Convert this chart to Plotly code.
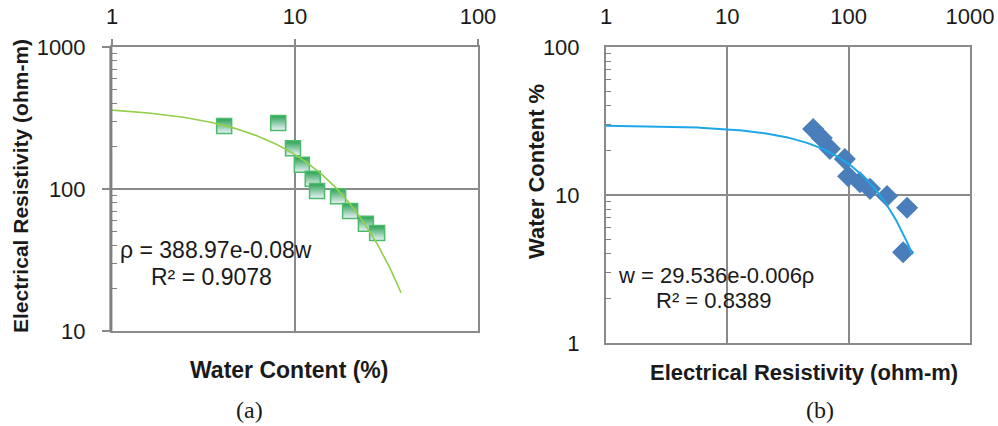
import numpy as np
import plotly.graph_objects as go

# ---- data ----
# (a) water content (%) vs electrical resistivity (ohm-m)
a_water = [4.1, 8.1, 9.75, 10.9, 12.5, 13.2, 17.2, 20.0, 24.4, 28.1]
a_resist = [278, 292, 194, 148, 118, 97, 89, 70, 57, 49]
# exponential trendline printed on chart: rho = 388.97 e^(-0.08 w)
a_coef, a_rate = 388.97, -0.08
a_trend_range = [1, 38]

# (b) electrical resistivity (ohm-m) vs water content (%)
b_resist = [51, 60, 70, 93, 99, 124, 150, 207, 303, 281]
b_water = [27.9, 24.3, 20.5, 17.5, 13.4, 12.2, 11.0, 9.85, 8.2, 4.1]
# exponential trendline printed on chart: w = 29.536 e^(-0.006 rho)
b_coef, b_rate = 29.536, -0.006
b_trend_range = [1, 335]

log_ticks_a_x = [1, 10, 100]
log_ticks_a_y = [10, 100, 1000]
log_ticks_b_x = [1, 10, 100, 1000]
log_ticks_b_y = [1, 10, 100]

W, H = 998, 426
FONT = "Liberation Sans, Arial, sans-serif"
SERIF = "Liberation Serif, Times New Roman, serif"
TXT = "#1a1a1a"
FRAME = "#8a8a8a"

a_tw = np.geomspace(a_trend_range[0], a_trend_range[1], 200)
a_tr = a_coef * np.exp(a_rate * a_tw)
b_tr_x = np.geomspace(b_trend_range[0], b_trend_range[1], 200)
b_tr_y = b_coef * np.exp(b_rate * b_tr_x)


def minor_vals(decades):
    return [d * m for d in decades[:-1] for m in range(2, 10)]


fig = go.Figure()
fig.add_trace(go.Scatter(
    x=a_water, y=a_resist, mode="markers", xaxis="x", yaxis="y",
    marker=dict(symbol="square", size=15, color="#24a24f",
                gradient=dict(type="vertical", color="#eef2fb"),
                line=dict(color="#4cbb6c", width=1.5)),
    showlegend=False))
fig.add_trace(go.Scatter(
    x=a_tw, y=a_tr, mode="lines", xaxis="x", yaxis="y",
    line=dict(color="#92cf4a", width=1.6), showlegend=False))
fig.add_trace(go.Scatter(
    x=b_resist, y=b_water, mode="markers", xaxis="x2", yaxis="y2",
    marker=dict(symbol="diamond", size=17, color="#4a7ebb",
                line=dict(width=0)),
    showlegend=False))
fig.add_trace(go.Scatter(
    x=b_tr_x, y=b_tr_y, mode="lines", xaxis="x2", yaxis="y2",
    line=dict(color="#1ea7e8", width=2), showlegend=False))


def px(x):
    return x / W


def py(y):
    return 1 - y / H


common_x = dict(type="log", side="top", showgrid=True,
                gridcolor=FRAME, gridwidth=2, showline=True, mirror=True,
                linecolor=FRAME, linewidth=2, zeroline=False, automargin=False,
                tickfont=dict(family=FONT, size=22, color=TXT))
common_y = dict(type="log", showgrid=True, gridcolor=FRAME,
                gridwidth=2, showline=True, mirror=True, linecolor=FRAME,
                linewidth=2, zeroline=False, automargin=False,
                tickfont=dict(family=FONT, size=22, color=TXT))


def minor(decades):
    return dict(ticks="inside", ticklen=5, tickcolor="#7f7f7f", tickwidth=1.2,
                tickmode="array", tickvals=minor_vals(decades), showgrid=False)


fig.update_layout(
    width=W, height=H, margin=dict(l=0, r=0, t=0, b=0, autoexpand=False),
    paper_bgcolor="white", plot_bgcolor="white",
    xaxis=dict(common_x, domain=[px(112), px(478)], range=[0, 2],
               tickmode="array", tickvals=log_ticks_a_x,
               ticktext=[str(v) for v in log_ticks_a_x],
               ticks="outside", ticklen=6, tickcolor=FRAME, tickwidth=2,
               ticklabelstandoff=6, anchor="y"),
    yaxis=dict(common_y, domain=[py(331), py(47)], range=[1, 3],
               tickmode="array", tickvals=log_ticks_a_y,
               ticktext=[str(v) for v in log_ticks_a_y],
               ticks="outside", ticklen=8, tickcolor=FRAME, tickwidth=2,
               ticklabelstandoff=12, anchor="x", minor=minor(log_ticks_a_y)),
    xaxis2=dict(common_x, domain=[px(606), px(970)], range=[0, 3],
                tickmode="array", tickvals=log_ticks_b_x,
                ticktext=[str(v) for v in log_ticks_b_x],
                ticks="", ticklabelstandoff=12, anchor="y2"),
    yaxis2=dict(common_y, domain=[py(343), py(47)], range=[0, 2],
                tickmode="array", tickvals=log_ticks_b_y,
                ticktext=[str(v) for v in log_ticks_b_y],
                ticks="", ticklabelstandoff=20, anchor="x2",
                minor=minor(log_ticks_b_y)),
)

# thicker left spine on panel (a)
fig.add_shape(type="line", xref="x domain", yref="y domain", x0=-0.003, x1=-0.003,
              y0=0, y1=1, line=dict(color="#7f7f7f", width=3))

ann = []


def text(x, y, s, size=22, bold=False, angle=0, family=FONT):
    ann.append(dict(x=px(x), y=py(y), xref="paper", yref="paper",
                    text=f"<b>{s}</b>" if bold else s, showarrow=False,
                    textangle=angle, xanchor="center", yanchor="middle",
                    font=dict(family=family, size=size, color=TXT)))


text(20, 186, "Electrical Resistivity (ohm-m)", size=21, bold=True, angle=-90)
text(289, 370, "Water Content (%)", size=23, bold=True)
text(536, 172, "Water Content %", size=22, bold=True, angle=-90)
text(804, 372, "Electrical Resistivity (ohm-m)", size=22, bold=True)
text(250, 410, "(a)", size=24, family=SERIF)
text(820, 410, "(b)", size=24, family=SERIF)
text(216, 250, "ρ = 388.97e-0.08w", size=23)
text(211, 277, "R² = 0.9078", size=23)
text(716, 275, "w = 29.536e-0.006ρ", size=22)
text(714, 300, "R² = 0.8389", size=22)

fig.update_layout(annotations=ann)
fig.write_html(
    "out.html",
    config={"displayModeBar": False},
    post_script="document.body.style.margin='0';"
                "document.body.style.overflow='hidden';",
)
